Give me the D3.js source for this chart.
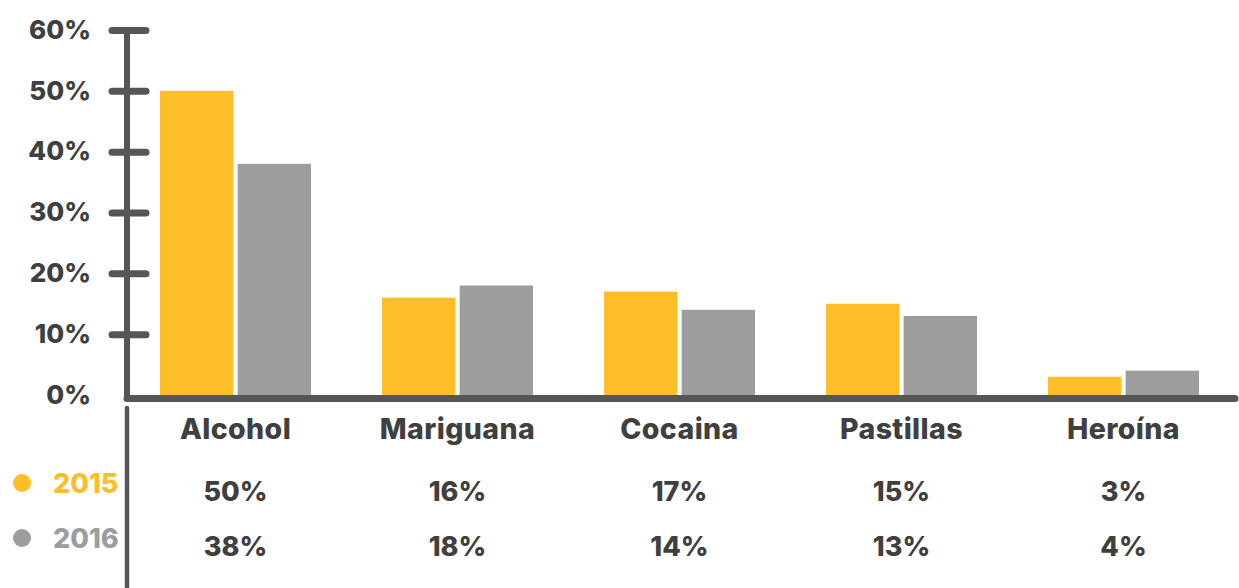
<!DOCTYPE html>
<html>
<head>
<meta charset="utf-8">
<script src="https://cdn.jsdelivr.net/npm/d3@7"></script>
<style>
  html, body { margin: 0; padding: 0; background: #fff; }
  svg { display: block; font-family: Inter, "Open Sans", sans-serif; font-weight: 800; }
</style>
</head>
<body>
<svg id="chart" width="1239" height="588"></svg>
<script>
// Consumption by substance, share of respondents
const categories = ["Alcohol", "Mariguana", "Cocaina", "Pastillas", "Heroína"];
const years = ["2015", "2016"];
const values2015 = [50, 16, 17, 15, 3];
const values2016 = [38, 18, 14, 13, 4];
const yTicks = [0, 10, 20, 30, 40, 50, 60];

const colors = { "2015": "#FDBE28", "2016": "#9C9D9F" };
const axisColor = "#555658";
const textColor = "#3F3F40";
const fontStack = "Inter, 'Open Sans', sans-serif";

const svg = d3.select("#chart");

const x = d3.scaleBand().domain(categories).range([124.5, 1234.5])
  .paddingInner(0.32).paddingOuter(0.16);
const xSub = d3.scaleBand().domain(years).range([0, x.bandwidth()]).paddingInner(0.055);
const y = d3.scaleLinear().domain([0, 60]).range([395, 30]);

const series = years.map((yr, i) => ({
  year: yr,
  values: (i === 0 ? values2015 : values2016)
}));

// Bars
const groups = svg.append("g").selectAll("g")
  .data(categories)
  .join("g")
  .attr("transform", d => `translate(${x(d)},0)`);

groups.selectAll("rect")
  .data((d, ci) => series.map(s => ({ year: s.year, v: s.values[ci] })))
  .join("rect")
  .attr("x", d => xSub(d.year))
  .attr("width", xSub.bandwidth())
  .attr("y", d => y(d.v))
  .attr("height", d => y(0) - y(d.v))
  .attr("fill", d => colors[d.year]);

// Vertical axis with double-sided rounded ticks
const axisX = 127;
const yAxis = svg.append("g")
  .attr("transform", `translate(${axisX},0)`)
  .call(d3.axisLeft(y).tickValues(yTicks).tickFormat(d => d + "%").tickSize(15).tickPadding(21));
yAxis.select(".domain").remove();
yAxis.selectAll(".tick line")
  .attr("x1", -15).attr("x2", 19)
  .attr("stroke", axisColor).attr("stroke-width", 7).attr("stroke-linecap", "round");
yAxis.selectAll(".tick").filter(d => d === 0).select("line").remove();
yAxis.selectAll(".tick text")
  .attr("fill", textColor)
  .style("font-size", "26px")
  .style("font-family", fontStack)
  .style("font-weight", 800);

svg.append("line")
  .attr("x1", axisX).attr("x2", axisX)
  .attr("y1", y(60)).attr("y2", y(0) + 3.5)
  .attr("stroke", axisColor).attr("stroke-width", 6).attr("stroke-linecap", "round");

// Baseline
svg.append("line")
  .attr("x1", axisX).attr("x2", 1235)
  .attr("y1", y(0) + 3.5).attr("y2", y(0) + 3.5)
  .attr("stroke", axisColor).attr("stroke-width", 7).attr("stroke-linecap", "round");

// Divider for the value table
svg.append("line")
  .attr("x1", axisX).attr("x2", axisX)
  .attr("y1", 408).attr("y2", 588)
  .attr("stroke", axisColor).attr("stroke-width", 4.5).attr("stroke-linecap", "round");

// Category labels
svg.append("g").selectAll("text")
  .data(categories)
  .join("text")
  .attr("x", d => x(d) + x.bandwidth() / 2)
  .attr("y", 439)
  .attr("text-anchor", "middle")
  .attr("fill", textColor)
  .style("font-size", "28.5px")
  .style("letter-spacing", "0.4px")
  .text(d => d);

// Value rows
const rowY = { "2015": 501, "2016": 556 };
series.forEach(s => {
  svg.append("g").selectAll("text")
    .data(categories)
    .join("text")
    .attr("x", d => x(d) + x.bandwidth() / 2)
    .attr("y", rowY[s.year])
    .attr("text-anchor", "middle")
    .attr("fill", textColor)
    .style("font-size", "27px")
    .text((d, i) => s.values[i] + "%");
});

// Legend
const legend = svg.append("g").selectAll("g")
  .data(years)
  .join("g")
  .attr("transform", d => `translate(0,${rowY[d] - 18})`);
legend.append("circle")
  .attr("cx", 22).attr("cy", 0).attr("r", 9)
  .attr("fill", d => colors[d]);
legend.append("text")
  .attr("x", 53).attr("y", 10)
  .attr("fill", d => colors[d])
  .style("font-size", "27px")
  .text(d => d);
</script>
</body>
</html>
